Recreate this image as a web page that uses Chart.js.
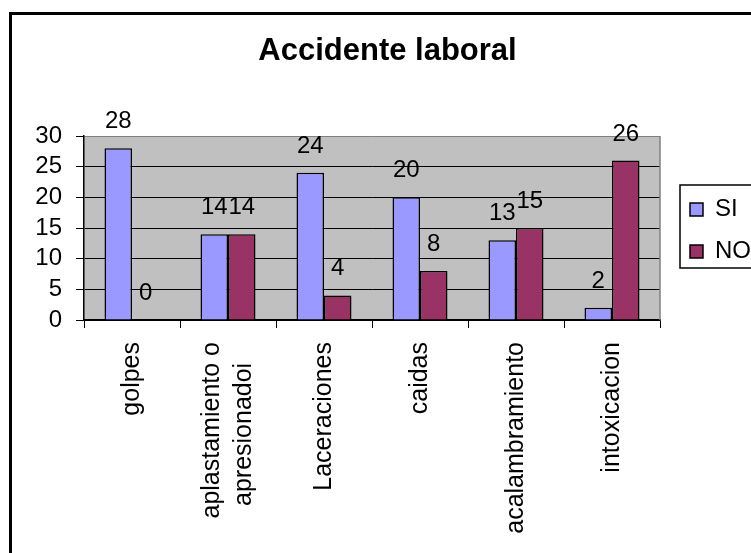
<!DOCTYPE html>
<html lang="es">
<head>
    <meta charset="UTF-8">
    <title>Accidente laboral</title>
    <script src="https://cdn.jsdelivr.net/npm/chart.js"></script>
    <style>
        body {
            margin: 0;
            background-color: #fff;
        }
        #contenedor {
            width: 751px;
            height: 553px;
            overflow: hidden;
        }
    </style>
</head>
<body>
    <div id="contenedor">
        <canvas id="accidenteChart" width="751" height="553"></canvas>
    </div>
    <script>
        // Datos del gráfico
        const categorias = ['golpes', ['aplastamiento o', 'apresionadoi\u00a0\u00a0\u00a0'], 'Laceraciones', 'caidas', 'acalambramiento', 'intoxicacion'];
        const valoresSI = [28, 14, 24, 20, 13, 2];
        const valoresNO = [0, 14, 4, 8, 15, 26];
        const ticksY = [0, 5, 10, 15, 20, 25, 30];

        const FUENTE = 'Arial, "Liberation Sans", sans-serif';

        // Fondo gris del área, marco exterior y recuadro de la leyenda
        const marcoPlugin = {
            id: 'marco',
            afterLayout(chart) {
                // separar la leyenda del área de trazado
                const lg = chart.legend;
                lg.left += 12; lg.right += 12;
                lg.top += 2.5; lg.bottom += 2.5;
            },
            beforeDraw(chart) {
                const { ctx, chartArea: a } = chart;
                ctx.save();
                ctx.fillStyle = '#fff';
                ctx.fillRect(0, 0, chart.width, chart.height);
                ctx.fillStyle = '#c0c0c0';
                ctx.fillRect(a.left, a.top, a.right - a.left, a.bottom - a.top);
                ctx.strokeStyle = '#000';
                ctx.lineWidth = 3;
                ctx.strokeRect(10.5, 13.5, chart.width + 20, chart.height + 20);
                ctx.restore();

                // centrar las etiquetas de varias líneas en su categoría
                const items = chart.scales.x.getLabelItems();
                items.forEach(it => {
                    if (Array.isArray(it.label) && !it._movido) {
                        const lh = it.font.lineHeight;
                        it.options.translation[0] -= (it.label.length - 1) * lh / 2;
                        it._movido = true;
                    }
                });
            },
            beforeDatasetsDraw(chart) {
                const { ctx, chartArea: a } = chart;
                ctx.save();
                ctx.strokeStyle = '#808080';
                ctx.lineWidth = 1.5;
                ctx.beginPath();
                ctx.moveTo(a.right, a.top);
                ctx.lineTo(a.right, a.bottom);
                ctx.stroke();
                ctx.restore();
            },
            afterDraw(chart) {
                const lg = chart.legend;
                const pad = lg.options.labels.padding;
                const colH = lg.columnSizes[0].height;
                const y0 = (lg.top + pad + lg.bottom - colH) / 2;
                const ctx = chart.ctx;
                ctx.save();
                ctx.strokeStyle = '#000';
                ctx.lineWidth = 1.5;
                ctx.strokeRect(lg.left + 8, y0 + 5.5 - 18, 200, 83);
                ctx.restore();
            }
        };

        // Valores encima de cada barra
        const etiquetasPlugin = {
            id: 'etiquetas',
            afterDatasetsDraw(chart) {
                const ctx = chart.ctx;
                ctx.save();
                ctx.font = '24px ' + FUENTE;
                ctx.fillStyle = '#000';
                ctx.textAlign = 'center';
                ctx.textBaseline = 'alphabetic';
                chart.data.datasets.forEach((ds, i) => {
                    chart.getDatasetMeta(i).data.forEach((barra, j) => {
                        ctx.fillText(ds.data[j], barra.x, barra.y - 20);
                    });
                });
                ctx.restore();
            }
        };

        new Chart(document.getElementById('accidenteChart'), {
            type: 'bar',
            data: {
                labels: categorias,
                datasets: [
                    {
                        label: 'SI',
                        data: valoresSI,
                        backgroundColor: '#9999ff',
                        borderColor: '#000',
                        borderWidth: 1.5,
                        categoryPercentage: 0.573,
                        barPercentage: 1
                    },
                    {
                        label: 'NO',
                        data: valoresNO,
                        backgroundColor: '#993366',
                        borderColor: '#000',
                        borderWidth: 1.5,
                        categoryPercentage: 0.573,
                        barPercentage: 1
                    }
                ]
            },
            options: {
                responsive: false,
                animation: false,
                devicePixelRatio: 1,
                events: [],
                layout: { padding: { left: 26, right: 2, top: 0, bottom: 0 } },
                plugins: {
                    title: {
                        display: true,
                        text: 'Accidente laboral',
                        color: '#000',
                        font: { size: 31, weight: 'bold', family: FUENTE, lineHeight: 1.2 },
                        padding: { top: 33, bottom: 65.8 }
                    },
                    legend: {
                        position: 'right',
                        fullSize: false,
                        labels: {
                            color: '#000',
                            font: { size: 24, family: FUENTE },
                            boxWidth: 13,
                            boxHeight: 13,
                            padding: 18
                        }
                    },
                    tooltip: { enabled: false }
                },
                scales: {
                    x: {
                        ticks: {
                            color: '#000',
                            font: { size: 25, family: FUENTE, lineHeight: 1.28 },
                            minRotation: 90,
                            maxRotation: 90,
                            padding: 14,
                            autoSkip: false
                        },
                        grid: {
                            offset: true,
                            drawOnChartArea: false,
                            color: '#000',
                            tickColor: '#000',
                            tickLength: 8
                        },
                        border: { color: '#000', width: 1.5 },
                        afterFit: s => { s.height = 233; }
                    },
                    y: {
                        min: 0,
                        max: 30,
                        ticks: {
                            color: '#000',
                            font: { size: 24, family: FUENTE },
                            padding: 14,
                            autoSkip: false
                        },
                        grid: {
                            color: c => (c.tick && c.tick.value === 30 ? '#808080' : '#000'),
                            tickColor: '#000',
                            tickLength: 8,
                            lineWidth: 1
                        },
                        border: { color: '#000', width: 1.5 },
                        afterBuildTicks: s => { s.ticks = ticksY.map(v => ({ value: v })); },
                        afterFit: s => { s.width = 58; }
                    }
                }
            },
            plugins: [marcoPlugin, etiquetasPlugin]
        });
    </script>
</body>
</html>
